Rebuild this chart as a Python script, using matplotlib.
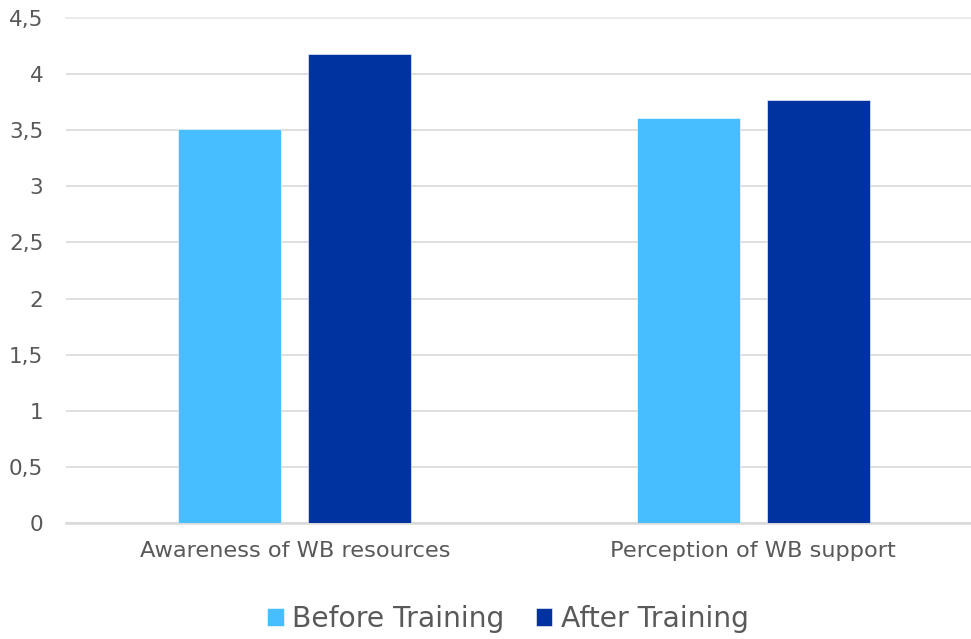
import matplotlib
matplotlib.use("Agg")
import matplotlib.pyplot as plt
import numpy as np

categories = ["Awareness of WB resources", "Perception of WB support"]
before_training = [3.51, 3.61]
after_training = [4.18, 3.77]
y_ticks = [0, 0.5, 1, 1.5, 2, 2.5, 3, 3.5, 4, 4.5]
y_tick_labels = ["0", "0,5", "1", "1,5", "2", "2,5", "3", "3,5", "4", "4,5"]

LIGHT = "#47BEFF"
DARK = "#0033A0"
TEXT = "#595959"
GRID = "#D9D9D9"

plt.rcParams['font.family'] = ['DejaVu Sans']

fig = plt.figure(figsize=(9.71, 6.39), dpi=100)
ax = fig.add_axes([0.0675, 0.1815, 0.9444, 0.7903])

x = np.arange(len(categories))
bw = 0.2246
off = 0.1418
ax.bar(x - off, before_training, bw, color=LIGHT, edgecolor="white", linewidth=0.4,
       label="Before Training", zorder=3)
ax.bar(x + off, after_training, bw, color=DARK, edgecolor="white", linewidth=0.4,
       label="After Training", zorder=3)

ax.set_xlim(-0.5, 1.5)
ax.set_ylim(0, 4.5)
ax.set_yticks(y_ticks)
ax.set_yticklabels(y_tick_labels)
ax.set_xticks(x)
ax.set_xticklabels(categories)
ax.tick_params(axis="y", length=0, pad=16, labelsize=15.5, labelcolor=TEXT)
ax.tick_params(axis="x", length=0, pad=13, labelsize=16.2, labelcolor=TEXT)

ax.grid(axis="y", color=GRID, linewidth=1.2, zorder=0)
ax.get_ygridlines()[-1].set_color("#E8E8E8")
ax.get_ygridlines()[-1].set_clip_on(False)
for s in ["top", "right", "left"]:
    ax.spines[s].set_visible(False)
ax.spines["bottom"].set_color(GRID)
ax.spines["bottom"].set_linewidth(1.8)
ax.set_axisbelow(True)

handles, labels = ax.get_legend_handles_labels()
fig.legend(handles, labels, loc="lower center", bbox_to_anchor=(0.523, -0.03),
           ncol=2, frameon=False, fontsize=20.3, labelcolor=TEXT,
           handlelength=0.6, handleheight=0.6, handletextpad=0.3, columnspacing=1.1)

fig.savefig("out.png", dpi=100)
